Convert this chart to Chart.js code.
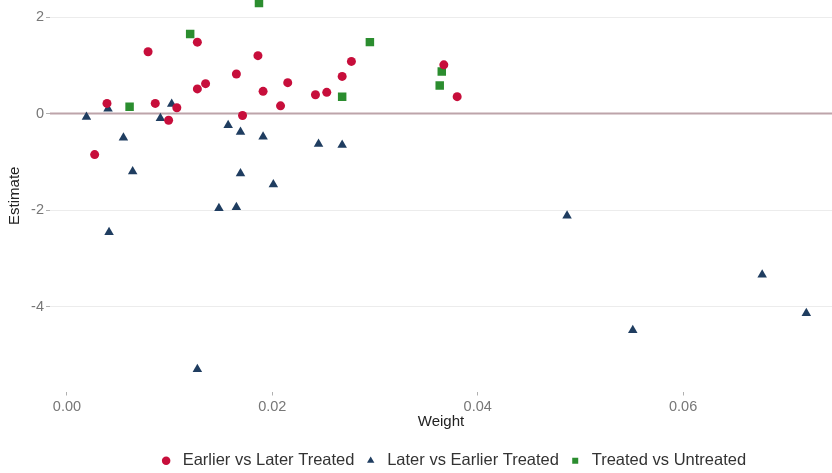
<!DOCTYPE html>
<html>
<head>
<meta charset="utf-8">
<script src="https://cdn.jsdelivr.net/npm/chart.js@4/dist/chart.umd.min.js"></script>
<style>
  html, body { margin: 0; padding: 0; background: #fff; }
  #wrap { width: 832px; height: 473px; position: relative; }
</style>
</head>
<body>
<div id="wrap"><canvas id="chart"></canvas></div>
<script>
// --- Data ---
const earlierWeight = [0.0039, 0.0027, 0.0079, 0.0086, 0.0099, 0.0107, 0.0127, 0.0127, 0.0135, 0.0165, 0.0171, 0.0186, 0.0191, 0.0208, 0.0215, 0.0242, 0.0253, 0.0268, 0.0277, 0.0367, 0.0380];
const earlierEstimate = [0.21, -0.85, 1.28, 0.21, -0.14, 0.12, 1.48, 0.51, 0.62, 0.82, -0.04, 1.20, 0.46, 0.16, 0.64, 0.39, 0.44, 0.77, 1.08, 1.01, 0.35];

const laterWeight = [0.0019, 0.0040, 0.0055, 0.0064, 0.0091, 0.0102, 0.0157, 0.0169, 0.0169, 0.0191, 0.0201, 0.0245, 0.0268, 0.0041, 0.0148, 0.0165, 0.0127, 0.0487, 0.0551, 0.0677, 0.0720];
const laterEstimate = [-0.07, 0.10, -0.50, -1.20, -0.10, 0.20, -0.24, -0.38, -1.24, -0.48, -1.47, -0.63, -0.65, -2.46, -1.96, -1.94, -5.30, -2.12, -4.49, -3.34, -4.14];

const untreatedWeight = [0.0061, 0.0120, 0.0187, 0.0295, 0.0268, 0.0365, 0.0363];
const untreatedEstimate = [0.14, 1.65, 2.29, 1.48, 0.35, 0.87, 0.58];

const seriesNames = ['Earlier vs Later Treated', 'Later vs Earlier Treated', 'Treated vs Untreated'];
const xTicks = [0, 0.02, 0.04, 0.06];
const yTicks = [-4, -2, 0, 2];

const toPoints = (xs, ys) => xs.map((x, i) => ({ x: x, y: ys[i] }));

// zero reference line, drawn under the points
const zeroLine = {
    id: 'zeroLine',
    beforeDatasetsDraw(chart) {
        const { ctx, chartArea, scales } = chart;
        const y = scales.y.getPixelForValue(0);
        ctx.save();
        ctx.strokeStyle = '#bda4aa';
        ctx.lineWidth = 2;
        ctx.beginPath();
        ctx.moveTo(chartArea.left, y);
        ctx.lineTo(chartArea.right, y);
        ctx.stroke();
        ctx.restore();
    }
};

// centre the legend under the panel rather than the whole canvas
const legendShift = {
    id: 'legendShift',
    afterLayout(chart) {
        const lg = chart.legend;
        const off = (chart.chartArea.left + chart.chartArea.right) / 2 - chart.width / 2 + 11;
        lg.left += off;
        lg.right += off;
    }
};

const fontFamily = 'Liberation Sans, Arial, sans-serif';
const tickFont = { family: fontFamily, size: 14.5 };
const titleFont = { family: fontFamily, size: 15 };

new Chart(document.getElementById('chart').getContext('2d'), {
    type: 'scatter',
    data: {
        datasets: [
            { label: seriesNames[0], data: toPoints(earlierWeight, earlierEstimate), pointStyle: 'circle', pointRadius: 4.5, backgroundColor: '#c70e3b', borderColor: '#c70e3b', borderWidth: 0 },
            { label: seriesNames[1], data: toPoints(laterWeight, laterEstimate), pointStyle: 'triangle', pointRadius: 5.5, backgroundColor: '#1f3d60', borderColor: '#1f3d60', borderWidth: 0 },
            { label: seriesNames[2], data: toPoints(untreatedWeight, untreatedEstimate), pointStyle: 'rect', pointRadius: 6, backgroundColor: '#2b8d2f', borderColor: '#2b8d2f', borderWidth: 0 }
        ]
    },
    options: {
        responsive: true,
        maintainAspectRatio: false,
        animation: false,
        layout: { autoPadding: false, padding: { top: 0, right: 0, bottom: -6, left: 0 } },
        plugins: {
            legend: {
                position: 'bottom',
                labels: {
                    usePointStyle: true,
                    boxWidth: 16.5,
                    boxHeight: 6,
                    padding: 8,
                    color: '#333',
                    font: { family: fontFamily, size: 16.5 }
                }
            },
            tooltip: { enabled: false }
        },
        scales: {
            x: {
                type: 'linear',
                min: -0.00165,
                max: 0.0745,
                afterFit: s => { s.height = 53; s.paddingLeft = 0; s.paddingRight = 0; },
                afterBuildTicks: s => { s.ticks = xTicks.map(v => ({ value: v })); },
                border: { display: false },
                grid: { drawOnChartArea: false, drawTicks: true, tickLength: 4, tickColor: '#b0b0b0' },
                ticks: { color: '#777', font: tickFont, padding: 3, callback: v => v.toFixed(2) },
                title: { display: true, text: 'Weight', color: '#222', font: titleFont, padding: { top: 0, bottom: 14 } }
            },
            y: {
                type: 'linear',
                min: -5.76,
                max: 2.353,
                afterFit: s => { s.width = 50; s.paddingTop = 0; s.paddingBottom = 0; },
                afterBuildTicks: s => { s.ticks = yTicks.map(v => ({ value: v })); },
                border: { display: false },
                grid: { color: '#ececec', lineWidth: 1, drawTicks: true, tickLength: 4, tickColor: '#b0b0b0' },
                ticks: { color: '#777', font: tickFont, padding: 2 },
                title: { display: true, text: 'Estimate', color: '#222', font: titleFont, padding: { top: 6, bottom: 0 } }
            }
        }
    },
    plugins: [zeroLine, legendShift]
});
</script>
</body>
</html>
